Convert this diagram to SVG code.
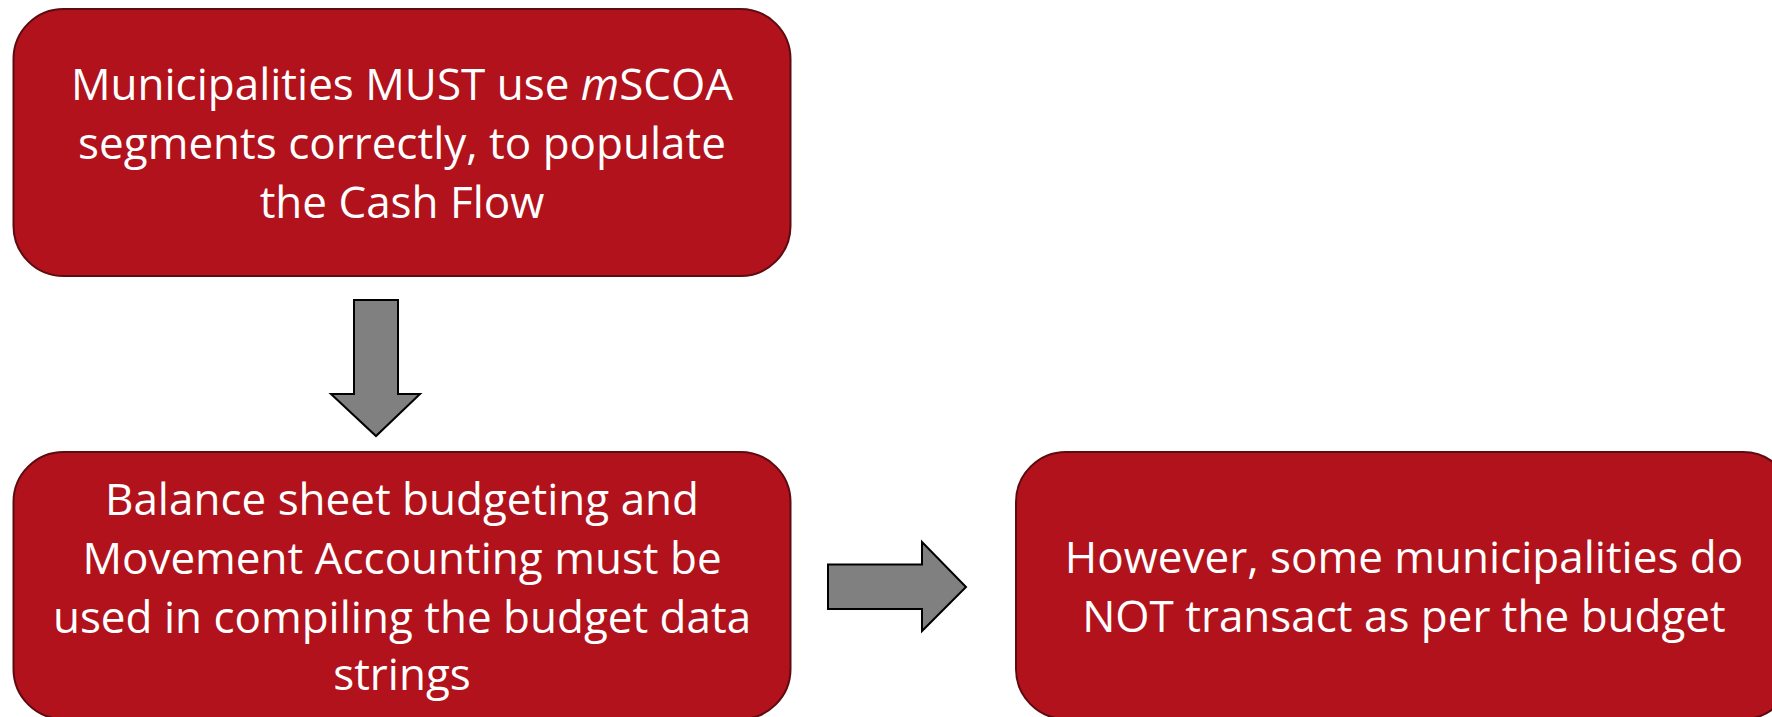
<svg xmlns="http://www.w3.org/2000/svg" width="1772" height="717" viewBox="0 0 1772 717">
  <style>
    .box { fill: #B1121C; stroke: #5C0B10; stroke-width: 2; }
    .label { font-family: "Open Sans", "Noto Sans", "Liberation Sans", sans-serif; font-size: 44px; fill: #FFFFFF; text-anchor: middle; }
    .arrow { fill: #808080; stroke: #000000; stroke-width: 2; stroke-linejoin: miter; }
  </style>
  <rect width="1772" height="717" fill="#FFFFFF"/>

  <g id="node-mscoa">
    <rect class="box" x="13.5" y="9" width="777" height="267" rx="50" ry="50"/>
    <text class="label" x="402" y="100">Municipalities MUST use <tspan font-style="italic">m</tspan>SCOA</text>
    <text class="label" x="402" y="159">segments correctly, to populate</text>
    <text class="label" x="402" y="218">the Cash Flow</text>
  </g>

  <g id="node-balance-sheet">
    <rect class="box" x="13.5" y="452" width="777" height="267" rx="50" ry="50"/>
    <text class="label" x="402" y="515">Balance sheet budgeting and</text>
    <text class="label" x="402" y="574">Movement Accounting must be</text>
    <text class="label" x="402" y="633">used in compiling the budget data</text>
    <text class="label" x="402" y="690">strings</text>
  </g>

  <g id="node-however">
    <rect class="box" x="1016" y="452" width="777" height="267" rx="50" ry="50"/>
    <text class="label" x="1404" y="573">However, some municipalities do</text>
    <text class="label" x="1404" y="632">NOT transact as per the budget</text>
  </g>

  <g id="connectors">
    <polygon class="arrow" points="354,300 398,300 398,394 420,394 376,436 331,394 354,394"/>
    <polygon class="arrow" points="828,564.5 922,564.5 922,542 966,587 922,631 922,609 828,609"/>
  </g>
</svg>
